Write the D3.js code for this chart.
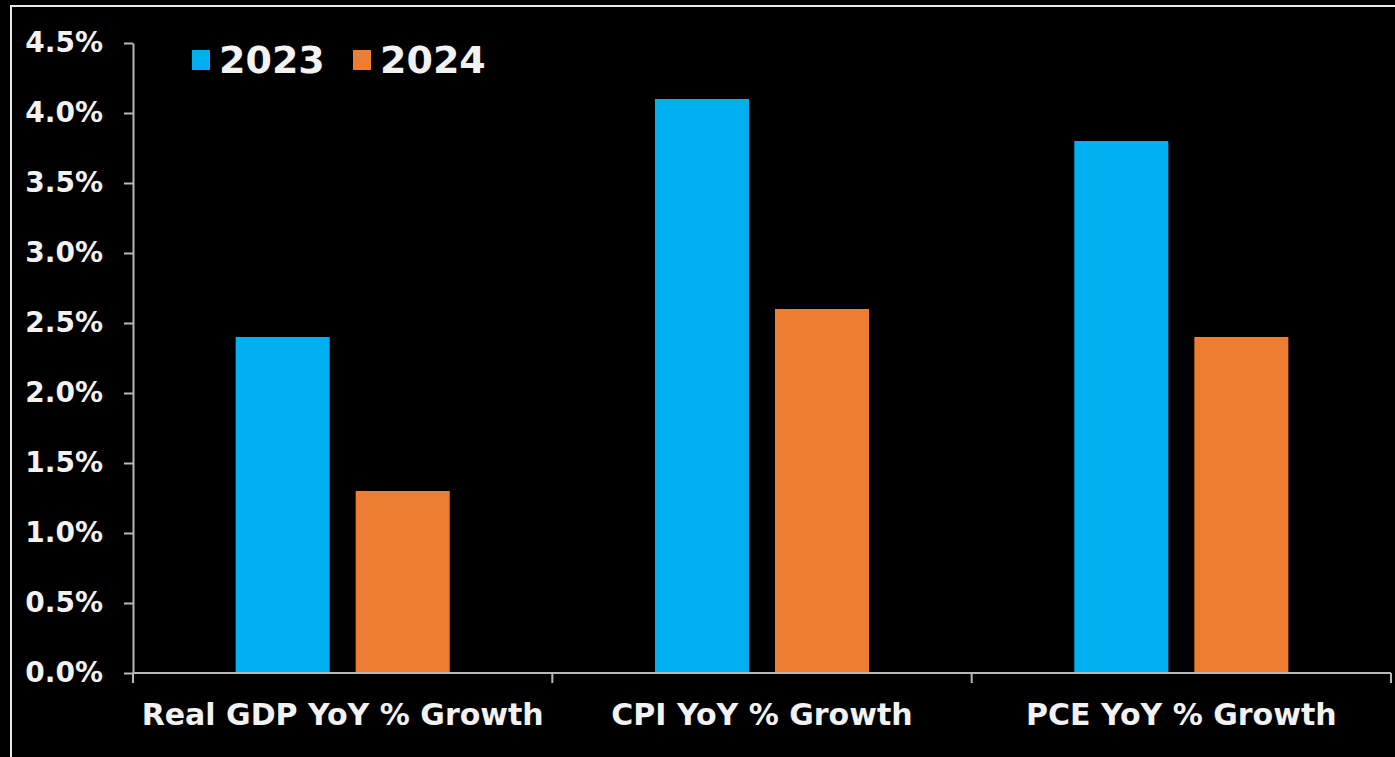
<!DOCTYPE html>
<html><head><meta charset="utf-8">
<script src="https://cdn.jsdelivr.net/npm/d3@7"></script>
<style>html,body{margin:0;padding:0;background:#000;overflow:hidden}</style>
</head><body>
<script>
const categories = ["Real GDP YoY % Growth", "CPI YoY % Growth", "PCE YoY % Growth"];
const seriesNames = ["2023", "2024"];
const values2023 = [2.4, 4.1, 3.8];
const values2024 = [1.3, 2.6, 2.4];
const yTicks = [0, 0.5, 1.0, 1.5, 2.0, 2.5, 3.0, 3.5, 4.0, 4.5];
const colors = ["#00B0F0", "#ED7D31"];

const W = 1395, H = 757;
const svg = d3.select("body").append("svg").attr("width", W).attr("height", H)
  .style("background", "#000").style("display", "block");

// frame
svg.append("rect").attr("x", 11).attr("y", 6).attr("width", W + 20).attr("height", H + 20)
  .attr("fill", "none").attr("stroke", "#e8e8e8").attr("stroke-width", 2);

const plotLeft = 133, plotRight = 1391, plotTop = 43, plotBottom = 673;
const x = d3.scaleBand().domain(categories).range([plotLeft, plotRight]).padding(0);
const xi = d3.scaleBand().domain(seriesNames).range([0, x.bandwidth()])
  .paddingInner(26 / 120).paddingOuter(102.6 / 120);
const y = d3.scaleLinear().domain([0, 4.5]).range([plotBottom, plotTop]);

const data = categories.map((c, i) => ({cat: c, vals: [values2023[i], values2024[i]]}));

// bars
const g = svg.append("g");
data.forEach(d => {
  d.vals.forEach((v, j) => {
    g.append("rect")
      .attr("x", x(d.cat) + xi(seriesNames[j]))
      .attr("y", y(v))
      .attr("width", xi.bandwidth())
      .attr("height", y(0) - y(v))
      .attr("fill", colors[j]);
  });
});

const axisColor = "#b8b8b8";
const font = "'DejaVu Sans', Verdana, sans-serif";

// y axis
const yAxis = svg.append("g").attr("transform", `translate(${plotLeft},0)`)
  .call(d3.axisLeft(y).tickValues(yTicks).tickSize(9).tickSizeOuter(0).tickPadding(21)
    .tickFormat(d => d.toFixed(1) + "%"));
yAxis.select(".domain").attr("stroke", axisColor).attr("stroke-width", 2);
yAxis.selectAll(".tick line").attr("stroke", axisColor).attr("stroke-width", 2);
yAxis.selectAll("text").attr("fill", "#f2f2f2").style("font-family", font)
  .style("font-weight", "bold").style("font-size", "28px");

// x axis line and boundary ticks
const xAxisG = svg.append("g").attr("transform", `translate(0,${plotBottom})`);
xAxisG.append("line").attr("x1", plotLeft).attr("x2", plotRight).attr("y1", 0).attr("y2", 0)
  .attr("stroke", axisColor).attr("stroke-width", 2);
const bounds = categories.map(c => x(c)).concat([x(categories[categories.length - 1]) + x.bandwidth()]);
xAxisG.selectAll("line.b").data(bounds).enter().append("line").attr("class", "b")
  .attr("x1", d => d).attr("x2", d => d).attr("y1", 0).attr("y2", 10)
  .attr("stroke", axisColor).attr("stroke-width", 2);
xAxisG.selectAll("text").data(categories).enter().append("text")
  .attr("x", d => x(d) + x.bandwidth() / 2).attr("y", 52)
  .attr("text-anchor", "middle").attr("fill", "#f2f2f2")
  .style("font-family", font).style("font-weight", "bold").style("font-size", "30px")
  .text(d => d);

// legend
const legendX = [192, 353];
seriesNames.forEach((s, j) => {
  svg.append("rect").attr("x", legendX[j]).attr("y", 50).attr("width", 18).attr("height", 20)
    .attr("fill", colors[j]);
  svg.append("text").attr("x", legendX[j] + 27).attr("y", 73)
    .attr("fill", "#f2f2f2").style("font-family", font).style("font-weight", "bold")
    .style("font-size", "38px").text(s);
});
</script>
</body></html>
